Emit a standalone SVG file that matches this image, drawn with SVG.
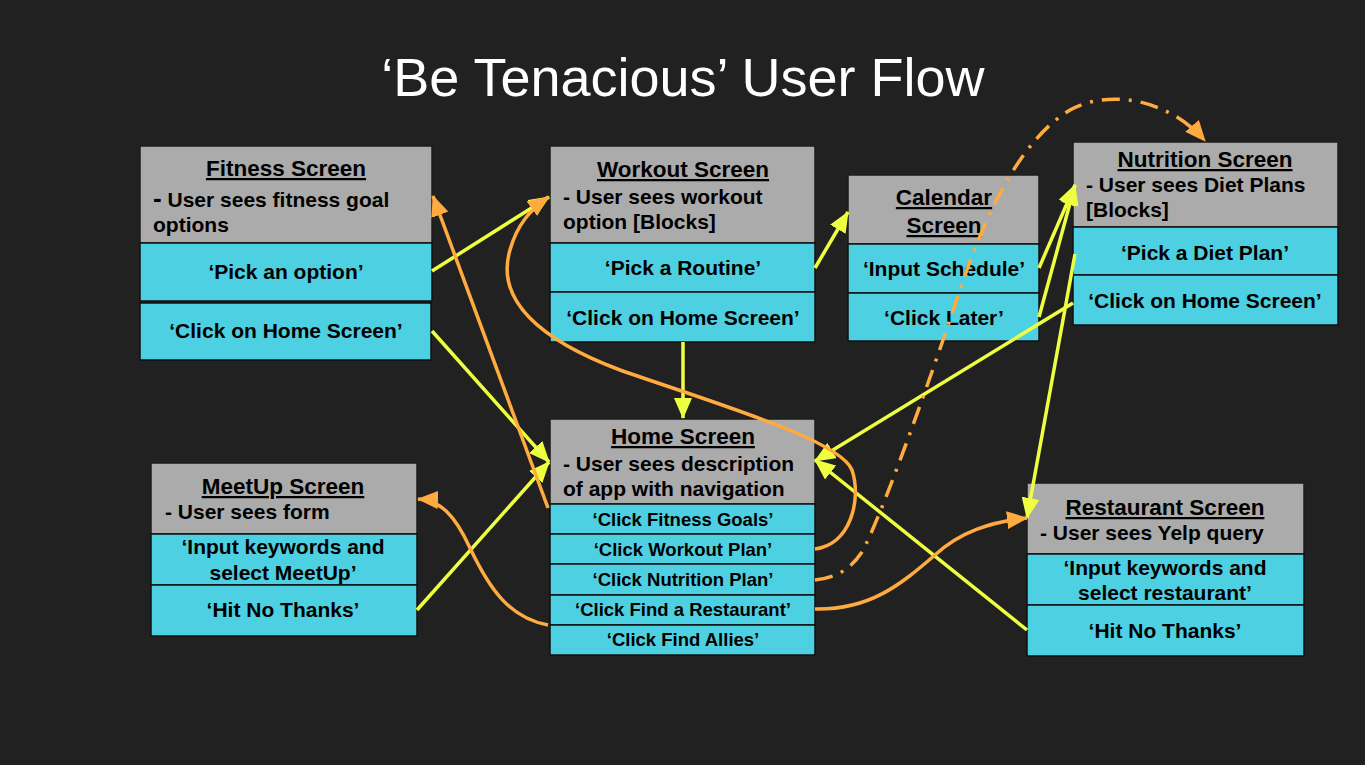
<svg xmlns="http://www.w3.org/2000/svg" width="1365" height="765" viewBox="0 0 1365 765">
<defs>
<style>
.hd{fill:#ababab;stroke:#1c1c1c;stroke-width:1.5}
.cy{fill:#4dd0e1;stroke:#111;stroke-width:1.5}
.t{font-family:"Liberation Sans",Arial,sans-serif;font-weight:bold;fill:#000}
.ti{font-size:22.5px;text-anchor:middle;text-decoration:underline}
.ds{font-size:21px}
.cl{font-size:21px;text-anchor:middle}
.hi{font-size:18.5px;text-anchor:middle}
.y{fill:none;stroke:#eeff41;stroke-width:3.5;marker-end:url(#ay)}
.o{fill:none;stroke:#ffab40;stroke-width:3.5;marker-end:url(#ao)}
.od{fill:none;stroke:#ffab40;stroke-width:3.5;stroke-dasharray:18 9 3 9;marker-end:url(#ao)}
</style>
<marker id="ay" markerUnits="userSpaceOnUse" markerWidth="22" markerHeight="18" refX="20" refY="9" orient="auto" viewBox="0 0 22 18"><path d="M0,0 L21,9 L0,18 z" fill="#eeff41"/></marker>
<marker id="ao" markerUnits="userSpaceOnUse" markerWidth="22" markerHeight="18" refX="20" refY="9" orient="auto" viewBox="0 0 22 18"><path d="M0,0 L21,9 L0,18 z" fill="#ffab40"/></marker>
</defs>
<rect x="0" y="0" width="1365" height="765" fill="#212121"/>
<text x="683" y="96" font-family="'Liberation Sans',Arial,sans-serif" font-size="54" fill="#ffffff" text-anchor="middle">‘Be Tenacious’ User Flow</text>

<g id="fitness">
<rect class="hd" x="140" y="146" width="292" height="97"/>
<rect class="cy" x="140" y="243" width="292" height="58"/>
<rect class="cy" x="140" y="303" width="291" height="57"/>
<text class="t ti" x="286" y="176">Fitness Screen</text>
<text class="t ds" x="153" y="207"><tspan font-size="26">-</tspan> User sees fitness goal</text>
<text class="t ds" x="153" y="232">options</text>
<text class="t cl" x="286" y="279">‘Pick an option’</text>
<text class="t cl" x="286" y="338">‘Click on Home Screen’</text>
</g>

<g id="workout">
<rect class="hd" x="550" y="146" width="265" height="97"/>
<rect class="cy" x="550" y="243" width="265" height="49"/>
<rect class="cy" x="550" y="292" width="265" height="50"/>
<text class="t ti" x="683" y="177">Workout Screen</text>
<text class="t ds" x="563" y="204">- User sees workout</text>
<text class="t ds" x="563" y="229">option [Blocks]</text>
<text class="t cl" x="683" y="275">‘Pick a Routine’</text>
<text class="t cl" x="683" y="325">‘Click on Home Screen’</text>
</g>

<g id="calendar">
<rect class="hd" x="848" y="175" width="191" height="69"/>
<rect class="cy" x="848" y="244" width="191" height="49"/>
<rect class="cy" x="848" y="293" width="191" height="48"/>
<text class="t ti" x="944" y="205">Calendar</text>
<text class="t ti" x="944" y="233">Screen</text>
<text class="t cl" x="944" y="276">‘Input Schedule’</text>
<text class="t cl" x="944" y="325">‘Click Later’</text>
</g>

<g id="nutrition">
<rect class="hd" x="1073" y="142" width="265" height="85"/>
<rect class="cy" x="1073" y="227" width="265" height="48"/>
<rect class="cy" x="1073" y="275" width="265" height="50"/>
<text class="t ti" x="1205" y="167">Nutrition Screen</text>
<text class="t ds" x="1086" y="192">- User sees Diet Plans</text>
<text class="t ds" x="1086" y="217">[Blocks]</text>
<text class="t cl" x="1205" y="260">‘Pick a Diet Plan’</text>
<text class="t cl" x="1205" y="308">‘Click on Home Screen’</text>
</g>

<g id="meetup">
<rect class="hd" x="151" y="463" width="266" height="71"/>
<rect class="cy" x="151" y="534" width="266" height="51"/>
<rect class="cy" x="151" y="585" width="266" height="51"/>
<text class="t ti" x="283" y="494">MeetUp Screen</text>
<text class="t ds" x="165" y="519" font-size="20">- User sees form</text>
<text class="t cl" x="283" y="554">‘Input keywords and</text>
<text class="t cl" x="283" y="580">select MeetUp’</text>
<text class="t cl" x="283" y="617">‘Hit No Thanks’</text>
</g>

<g id="home">
<rect class="hd" x="550" y="419" width="265" height="85"/>
<rect class="cy" x="550" y="504" width="265" height="30"/>
<rect class="cy" x="550" y="534" width="265" height="30"/>
<rect class="cy" x="550" y="564" width="265" height="31"/>
<rect class="cy" x="550" y="595" width="265" height="30"/>
<rect class="cy" x="550" y="625" width="265" height="30"/>
<text class="t ti" x="683" y="444">Home Screen</text>
<text class="t ds" x="563" y="471">- User sees description</text>
<text class="t ds" x="563" y="496">of app with navigation</text>
<text class="t hi" x="683" y="526">‘Click Fitness Goals’</text>
<text class="t hi" x="683" y="556">‘Click Workout Plan’</text>
<text class="t hi" x="683" y="586">‘Click Nutrition Plan’</text>
<text class="t hi" x="683" y="616">‘Click Find a Restaurant’</text>
<text class="t hi" x="683" y="646">‘Click Find Allies’</text>
</g>

<g id="restaurant">
<rect class="hd" x="1027" y="483" width="277" height="71"/>
<rect class="cy" x="1027" y="554" width="277" height="51"/>
<rect class="cy" x="1027" y="605" width="277" height="51"/>
<text class="t ti" x="1165" y="515">Restaurant Screen</text>
<text class="t ds" x="1040" y="540" font-size="20">- User sees Yelp query</text>
<text class="t cl" x="1165" y="575">‘Input keywords and</text>
<text class="t cl" x="1165" y="600">select restaurant’</text>
<text class="t cl" x="1165" y="638">‘Hit No Thanks’</text>
</g>

<g id="connectors">
<path class="y" d="M432,271 L549,197"/>
<path class="y" d="M432,331 L549,462"/>
<path class="y" d="M683,342 L683,418"/>
<path class="y" d="M815,268 L848,212"/>
<path class="y" d="M1039,268 L1075,185"/>
<path class="y" d="M1039,317 L1075,185"/>
<path class="y" d="M1073,303 L815,461"/>
<path class="y" d="M1075,254 L1027,518"/>
<path class="y" d="M1027,630 L815,460"/>
<path class="y" d="M417,610 L549,462"/>
<path class="o" d="M548,508 L433,196"/>
<path class="o" d="M815,549 C850,545 862,500 852,470 C840,440 720,405 620,370 C540,340 495,300 510,250 C517,225 530,210 548,197"/>
<path class="od" d="M815,580 C835,578 850,570 862,552 C880,520 930,380 960,290 C985,215 1020,140 1070,110 C1110,88 1170,100 1205,141"/>
<path class="o" d="M815,609 C870,610 900,585 935,555 C960,532 990,522 1027,518"/>
<path class="o" d="M548,625 C510,618 490,590 470,548 C455,515 440,500 418,499"/>
</g>
</svg>
